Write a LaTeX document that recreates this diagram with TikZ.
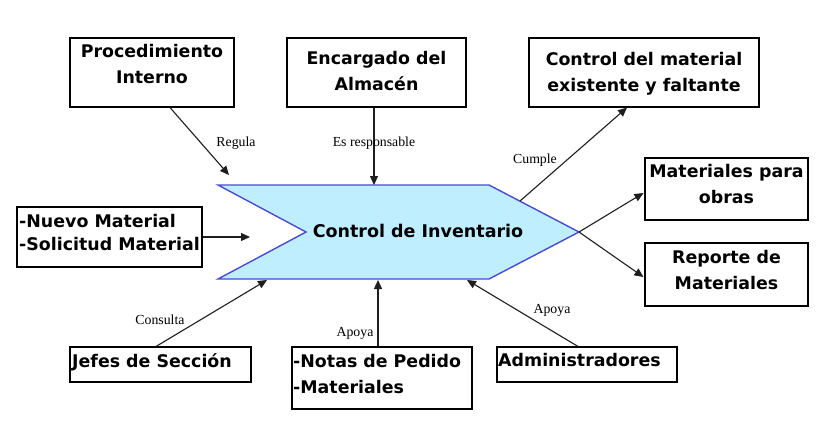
\documentclass[tikz,border=0pt]{standalone}
\usepackage{fontspec}
\setmainfont{DejaVu Sans}
\newfontfamily\lblfont{Liberation Serif}
\usetikzlibrary{arrows.meta,calc}
\definecolor{chevfill}{RGB}{190,238,255}
\definecolor{chevline}{RGB}{75,75,210}
\definecolor{arrcol}{RGB}{30,30,30}
\tikzset{
  box/.style={draw=black, line width=1.1pt, fill=white, inner sep=0pt},
  btext/.style={font=\bfseries\fontsize{17.4}{26}\selectfont, inner sep=0pt},
  elabel/.style={font=\lblfont\fontsize{13.8}{15}\selectfont, inner sep=0pt},
  arr/.style={draw=arrcol, line width=1.1pt, -{Triangle[length=9pt,width=8pt]}},
}
\begin{document}
\begin{tikzpicture}[x=1pt,y=-1pt]
\path[use as bounding box, fill=white] (0,0) rectangle (825,434);

% central chevron
\draw[fill=chevfill, draw=chevline, line width=1.4pt, line join=miter]
  (218,185) -- (489,185) -- (579,232) -- (489,279) -- (218,279) -- (306,232) -- cycle;
\node[btext, font=\bfseries\fontsize{17.5}{21}\selectfont] (ci) at (418,231) {Control de Inventario};
\coordinate (tip) at (579,232);

% boxes
\node[box, minimum width=164pt, minimum height=69pt] (proc) at (152,72.5) {};
\node[box, minimum width=179pt, minimum height=69pt] (enc) at (376.5,72.5) {};
\node[box, minimum width=230pt, minimum height=69pt] (ctrl) at (644,72.5) {};
\node[box, minimum width=163pt, minimum height=62pt] (obras) at (726.5,189) {};
\node[box, minimum width=163pt, minimum height=63pt] (rep) at (726.5,274.5) {};
\node[box, minimum width=185pt, minimum height=60pt] (nuevo) at (109.5,237) {};
\node[box, minimum width=181pt, minimum height=35pt] (jefes) at (160.5,364.5) {};
\node[box, minimum width=180pt, minimum height=62pt] (notas) at (382,378) {};
\node[box, minimum width=180pt, minimum height=35pt] (admin) at (587,364.5) {};

% box texts (anchor base = baseline of the last line)
\node[btext, align=center, anchor=base] (tproc) at (152,83) {Procedimiento\\Interno};
\node[btext, align=center, anchor=base] (tenc) at (376.5,90) {Encargado del\\Almacén};
\node[btext, align=center, anchor=base] (tctrl) at (644,91) {Control del material\\existente y faltante};
\node[btext, align=center, anchor=base] (tobras) at (726.5,203) {Materiales para\\obras};
\node[btext, align=center, anchor=base] (trep) at (726.5,289) {Reporte de\\Materiales};
\node[btext, font=\bfseries\fontsize{17.4}{23}\selectfont, align=left, anchor=base west] (tnuevo) at (19,250) {-Nuevo Material\\-Solicitud Material};
\node[btext, align=left, anchor=base west] (tjefes) at (72,367) {Jefes de Sección};
\node[btext, align=left, anchor=base west] (tnotas) at (293,393) {-Notas de Pedido\\-Materiales};
\node[btext, align=left, anchor=base west] (tadmin) at (498,366) {Administradores};

% free ends
\coordinate (eproc) at (229,175);
\coordinate (eenc) at (374,185);
\coordinate (scump) at (520,201);
\coordinate (enuevo) at (250,237);
\coordinate (ejefes) at (267,280);
\coordinate (enotas) at (378,280);
\coordinate (eadmin) at (467,280);

% connectors
\draw[arr] ($(proc.south)+(18,0)$) -- (eproc);
\draw[arr] ($(enc.south)+(-2.5,0)$) -- (eenc);
\draw[arr] (scump) -- ($(ctrl.south)+(-17,0)$);
\draw[arr] (tip) -- ($(obras.west)+(-1,4)$);
\draw[arr] (tip) -- ($(rep.west)+(-1,2.5)$);
\draw[arr] (nuevo.east) -- (enuevo);
\draw[arr] ($(jefes.north)+(-4.5,0)$) -- (ejefes);
\draw[arr] ($(notas.north)+(-4,0)$) -- (enotas);
\draw[arr] ($(admin.north)+(-9,0)$) -- (eadmin);

% connector labels
\node[elabel] (lreg) at (236,143) {Regula};
\node[elabel] (lenc) at (374,143) {Es responsable};
\node[elabel] (lcump) at (535,160) {Cumple};
\node[elabel] (lcons) at (160,320) {Consulta};
\node[elabel] (lapo1) at (355,333) {Apoya};
\node[elabel] (lapo2) at (552,310) {Apoya};
\end{tikzpicture}
\end{document}
